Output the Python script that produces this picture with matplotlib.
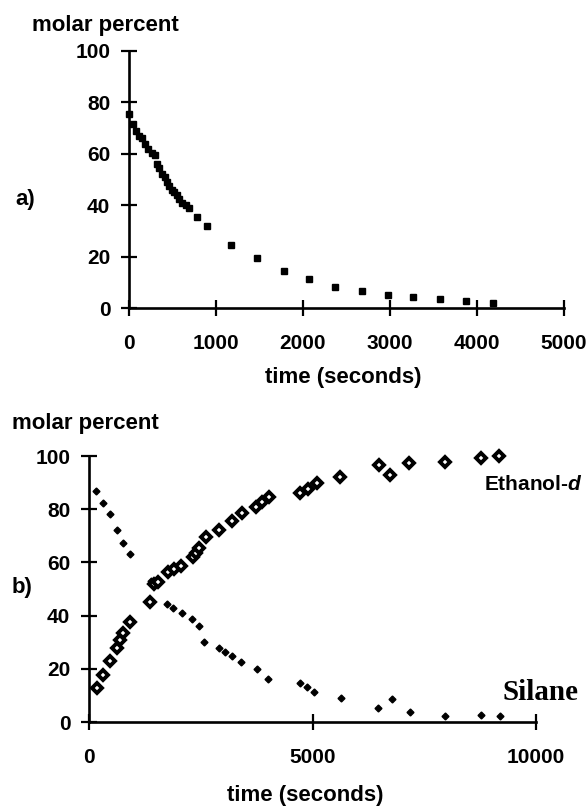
import matplotlib
matplotlib.use("Agg")
import matplotlib.pyplot as plt

plt.rcParams['font.family'] = ['Liberation Sans', 'DejaVu Sans']
plt.rcParams['font.weight'] = 'bold'
plt.rcParams['mathtext.fontset'] = 'custom'
plt.rcParams['mathtext.it'] = 'Liberation Sans:italic'

# panel a: molar percent vs time
time_a = [0, 45, 75, 120, 150, 185, 215, 260, 300, 320, 350, 375, 410, 435, 465, 490,
          520, 550, 580, 610, 650, 690, 780, 895, 1175, 1475, 1785, 2065, 2365,
          2675, 2975, 3265, 3575, 3875, 4185]
pct_a = [75.5, 71.5, 69, 67, 66, 64, 62, 60.5, 59.5, 56, 54.5, 52, 51, 49, 47.5, 46,
         45, 44, 42.5, 41, 40, 39, 35.5, 32, 24.5, 19.3, 14.4, 11.3, 8.2,
         6.6, 5, 4.3, 3.5, 2.7, 1.9]

# panel b: ethanol-d (open diamonds) and silane (small filled diamonds)
time_eth = [170, 320, 470, 620, 700, 770, 920, 1360, 1450, 1550, 1770, 1900, 2060, 2320,
            2400, 2450, 2620, 2900, 3200, 3420, 3740, 3870, 4020, 4730, 4910, 5100,
            5620, 6480, 6740, 7150, 7970, 8770, 9170]
pct_eth = [12.7, 17.7, 23, 28, 31, 33.3, 37.7, 45.2, 52, 52.7, 56.3, 57.5, 58.8, 62.1,
           63.5, 65.3, 69.7, 72.2, 75.4, 78.4, 80.9, 82.8, 84.5, 86, 87.6, 89.7,
           92.2, 96.6, 92.9, 97.2, 97.8, 99.1, 100]

time_sil = [160, 320, 470, 620, 770, 910, 1380, 1750, 1890, 2075, 2300, 2460, 2575, 2900,
            3045, 3200, 3410, 3755, 3995, 4730, 4880, 5040, 5640, 6460, 6770, 7175,
            7970, 8770, 9185]
pct_sil = [86.8, 82.4, 78.2, 72.2, 67.2, 63.2, 53, 44.5, 42.9, 40.9, 38.6, 36, 30.2, 27.7,
           26.4, 25, 22.5, 20, 16, 14.5, 13.2, 11.2, 9.1, 5.1, 8.5, 3.6,
           2.4, 2.8, 2.1]

W, H = 587, 808
fig = plt.figure(figsize=(W / 100, H / 100), dpi=100)


def px(x, y):
    return x / W, 1 - y / H


def style(ax, xticks):
    for s in ['top', 'right']:
        ax.spines[s].set_visible(False)
    for s in ['left', 'bottom']:
        ax.spines[s].set_linewidth(1.9)
    ax.set_yticks([0, 20, 40, 60, 80, 100])
    ax.set_xticks(xticks)
    ax.tick_params(direction='inout', length=11, width=1.6, labelsize=15)
    ax.tick_params(axis='y', pad=8)
    ax.tick_params(axis='x', pad=13)
    ax.patch.set_visible(False)


# panel a
ax1 = fig.add_axes([129 / W, 1 - 308 / H, 435 / W, 257 / H])
ax1.plot(time_a, pct_a, 's', color='black', markersize=4.3, clip_on=False)
ax1.set_xlim(0, 5000)
ax1.set_ylim(0, 100)
style(ax1, [0, 1000, 2000, 3000, 4000, 5000])

fig.text(*px(32, 25), 'molar percent', fontsize=16, va='center', ha='left')
fig.text(*px(15, 200), 'a)', fontsize=16, va='center', ha='left')
fig.text(*px(343, 377), 'time (seconds)', fontsize=16, va='center', ha='center')

# panel b
ax2 = fig.add_axes([89 / W, 1 - 722 / H, 447 / W, 266 / H])
ax2.plot(time_sil, pct_sil, 'D', color='black', markersize=3.5, clip_on=False)
ax2.plot(time_eth, pct_eth, 'D', markerfacecolor='white', markeredgecolor='black',
         markersize=5.2, markeredgewidth=2.8, clip_on=False)
ax2.set_xlim(0, 10000)
ax2.set_ylim(0, 100)
style(ax2, [0, 5000, 10000])

fig.text(*px(12, 423), 'molar percent', fontsize=16, va='center', ha='left')
fig.text(*px(12, 588), 'b)', fontsize=16, va='center', ha='left')
fig.text(*px(305, 796), 'time (seconds)', fontsize=16, va='center', ha='center')

fig.text(*px(583, 485), r'Ethanol-$\mathit{d}$', fontsize=15, va='center', ha='right')
fig.text(*px(502, 693), 'Silane', fontsize=21, va='center', ha='left',
         family=['Liberation Serif'], weight='bold')

fig.savefig('out.png', dpi=100)
